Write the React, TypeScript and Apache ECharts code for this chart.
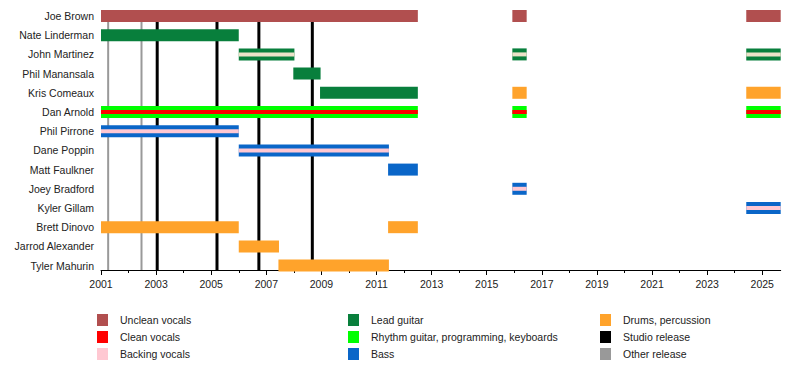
import React, { useEffect, useRef } from "react";
import * as echarts from "echarts";

// ---- Data ----
const members = [
  "Joe Brown",
  "Nate Linderman",
  "John Martinez",
  "Phil Manansala",
  "Kris Comeaux",
  "Dan Arnold",
  "Phil Pirrone",
  "Dane Poppin",
  "Matt Faulkner",
  "Joey Bradford",
  "Kyler Gillam",
  "Brett Dinovo",
  "Jarrod Alexander",
  "Tyler Mahurin",
];

// [member, start, end, main role, secondary role or ""]
const periods: [string, number, number, string, string][] = [
  ["Joe Brown", 2001, 2012.5, "unclean", ""],
  ["Joe Brown", 2015.93, 2016.45, "unclean", ""],
  ["Joe Brown", 2024.42, 2025.67, "unclean", ""],
  ["Nate Linderman", 2001, 2006, "lead", ""],
  ["John Martinez", 2006, 2008.02, "lead", "backing"],
  ["John Martinez", 2015.93, 2016.45, "lead", "backing"],
  ["John Martinez", 2024.42, 2025.67, "lead", "backing"],
  ["Phil Manansala", 2007.98, 2008.97, "lead", ""],
  ["Kris Comeaux", 2008.95, 2012.5, "lead", ""],
  ["Kris Comeaux", 2015.93, 2016.45, "drums", ""],
  ["Kris Comeaux", 2024.42, 2025.67, "drums", ""],
  ["Dan Arnold", 2001, 2012.5, "rhythm", "clean"],
  ["Dan Arnold", 2015.93, 2016.45, "rhythm", "clean"],
  ["Dan Arnold", 2024.42, 2025.67, "rhythm", "clean"],
  ["Phil Pirrone", 2001, 2006, "bass", "backing"],
  ["Dane Poppin", 2006, 2011.45, "bass", "backing"],
  ["Matt Faulkner", 2011.42, 2012.5, "bass", ""],
  ["Joey Bradford", 2015.93, 2016.45, "bass", "backing"],
  ["Kyler Gillam", 2024.42, 2025.67, "bass", "backing"],
  ["Brett Dinovo", 2001, 2006, "drums", ""],
  ["Brett Dinovo", 2011.42, 2012.5, "drums", ""],
  ["Jarrod Alexander", 2006, 2007.46, "drums", ""],
  ["Tyler Mahurin", 2007.44, 2011.45, "drums", ""],
];

const studioReleases = [2003.04, 2005.21, 2006.73, 2008.67];
const otherReleases = [2001.26, 2002.47];

const majorYears = [2001, 2003, 2005, 2007, 2009, 2011, 2013, 2015, 2017, 2019, 2021, 2023, 2025];
const minorYears = [2002, 2004, 2006, 2008, 2010, 2012, 2014, 2016, 2018, 2020, 2022, 2024];

const legendItems: [string, string][] = [
  ["Unclean vocals", "unclean"],
  ["Clean vocals", "clean"],
  ["Backing vocals", "backing"],
  ["Lead guitar", "lead"],
  ["Rhythm guitar, programming, keyboards", "rhythm"],
  ["Bass", "bass"],
  ["Drums, percussion", "drums"],
  ["Studio release", "studio"],
  ["Other release", "other"],
];

// ---- Styles ----
const roleColors: Record<string, string> = {
  unclean: "#b14f4f",
  clean: "#ff0000",
  backing: "#ffc8d2",
  lead: "#087f3c",
  rhythm: "#00ff00",
  bass: "#0a66c8",
  drums: "#ffa32b",
  studio: "#000000",
  other: "#999999",
};
const stripeOnLead = "#ebe2c8";

const roleKeys = Object.keys(roleColors);
const FONT = "'Liberation Sans', Arial, sans-serif";
const X_MIN = 2001;
const X_MAX = 2025.67;
const Y_MIN = -0.3125;
const Y_MAX = 13.23;

export default function App() {
  const ref = useRef<HTMLDivElement>(null);

  useEffect(() => {
    if (!ref.current) return;
    const chart = echarts.init(ref.current, undefined, { renderer: "svg" });

    // kind 0: release line [0, x, x, 0, isStudio, -1]
    // kind 1: bar [1, start, end, row, mainRole, secondaryRole]
    const chartData = [
      ...otherReleases.map((x) => [0, x, x, 0, 0, -1]),
      ...studioReleases.map((x) => [0, x, x, 0, 1, -1]),
      ...periods.map(([m, s, e, r, r2]) => [
        1,
        s,
        e,
        members.indexOf(m),
        roleKeys.indexOf(r),
        r2 ? roleKeys.indexOf(r2) : -1,
      ]),
    ];

    const legendGraphics: any[] = [];
    const colX = [97, 348, 600];
    const rowY = [320, 337, 354];
    legendItems.forEach(([label, key], i) => {
      const c = Math.floor(i / 3);
      const r = i % 3;
      legendGraphics.push({
        type: "rect",
        shape: { x: colX[c], y: rowY[r] - 6, width: 11, height: 12 },
        style: { fill: roleColors[key] },
      });
      legendGraphics.push({
        type: "text",
        x: colX[c] + 23,
        y: rowY[r],
        style: {
          text: label,
          fill: "#222",
          font: `10.5px ${FONT}`,
          verticalAlign: "middle",
          align: "left",
        },
      });
    });

    const option: any = {
      animation: false,
      grid: { left: 101, right: 800 - 780.7, top: 10, bottom: 95 },
      xAxis: [
        {
          type: "value",
          min: X_MIN,
          max: X_MAX,
          position: "bottom",
          axisLine: { show: true, onZero: false, lineStyle: { color: "#000", width: 1 } },
          splitLine: { show: false },
          axisTick: {
            show: true,
            customValues: majorYears,
            length: 5,
            lineStyle: { color: "#000", width: 1 },
          },
          axisLabel: {
            customValues: majorYears,
            formatter: (v: number) => String(Math.round(v)),
            color: "#222",
            fontSize: 10.5,
            fontFamily: FONT,
            margin: 8,
          },
        },
        {
          type: "value",
          min: X_MIN,
          max: X_MAX,
          position: "bottom",
          axisLine: { show: false, onZero: false },
          splitLine: { show: false },
          axisTick: {
            show: true,
            customValues: minorYears,
            length: 3,
            lineStyle: { color: "#000", width: 1 },
          },
          axisLabel: { show: false },
        },
      ],
      yAxis: {
        type: "value",
        inverse: true,
        min: Y_MIN,
        max: Y_MAX,
        axisLine: { show: false, onZero: false },
        axisTick: { show: false },
        splitLine: { show: false },
        axisLabel: {
          customValues: members.map((_, i) => i),
          formatter: (v: number) => members[Math.round(v)] ?? "",
          color: "#222",
          fontSize: 10.5,
          fontFamily: FONT,
          margin: 7,
        },
      },
      series: [
        {
          type: "custom",
          silent: true,
          clip: false,
          encode: { x: [1, 2], y: 3 },
          data: chartData,
          renderItem: (params: any, api: any) => {
            const kind = api.value(0);
            if (kind === 0) {
              const x = api.value(1);
              const studio = api.value(4) === 1;
              const top = api.coord([x, Y_MIN]);
              const bottom = api.coord([x, Y_MAX]);
              return {
                type: "line",
                z2: 0,
                shape: { x1: top[0], y1: top[1], x2: bottom[0], y2: bottom[1] },
                style: {
                  stroke: studio ? roleColors.studio : roleColors.other,
                  lineWidth: studio ? 3 : 2,
                },
              };
            }
            const p1 = api.coord([api.value(1), api.value(3)]);
            const p2 = api.coord([api.value(2), api.value(3)]);
            const main = roleKeys[api.value(4)];
            const secIdx = api.value(5);
            const h = 12;
            const children: any[] = [
              {
                type: "rect",
                z2: 10,
                shape: { x: p1[0], y: p1[1] - h / 2, width: p2[0] - p1[0], height: h },
                style: { fill: roleColors[main] },
              },
            ];
            if (secIdx >= 0) {
              const sec = roleKeys[secIdx];
              const col = sec === "backing" && main === "lead" ? stripeOnLead : roleColors[sec];
              children.push({
                type: "rect",
                z2: 11,
                shape: { x: p1[0], y: p1[1] - 2, width: p2[0] - p1[0], height: 4 },
                style: { fill: col },
              });
            }
            return { type: "group", children };
          },
        },
      ],
      graphic: legendGraphics,
    };

    chart.setOption(option);
    return () => chart.dispose();
  }, []);

  return (
    <div
      ref={ref}
      style={{ position: "absolute", left: 0, top: 0, width: 800, height: 365, background: "#fff" }}
    />
  );
}
